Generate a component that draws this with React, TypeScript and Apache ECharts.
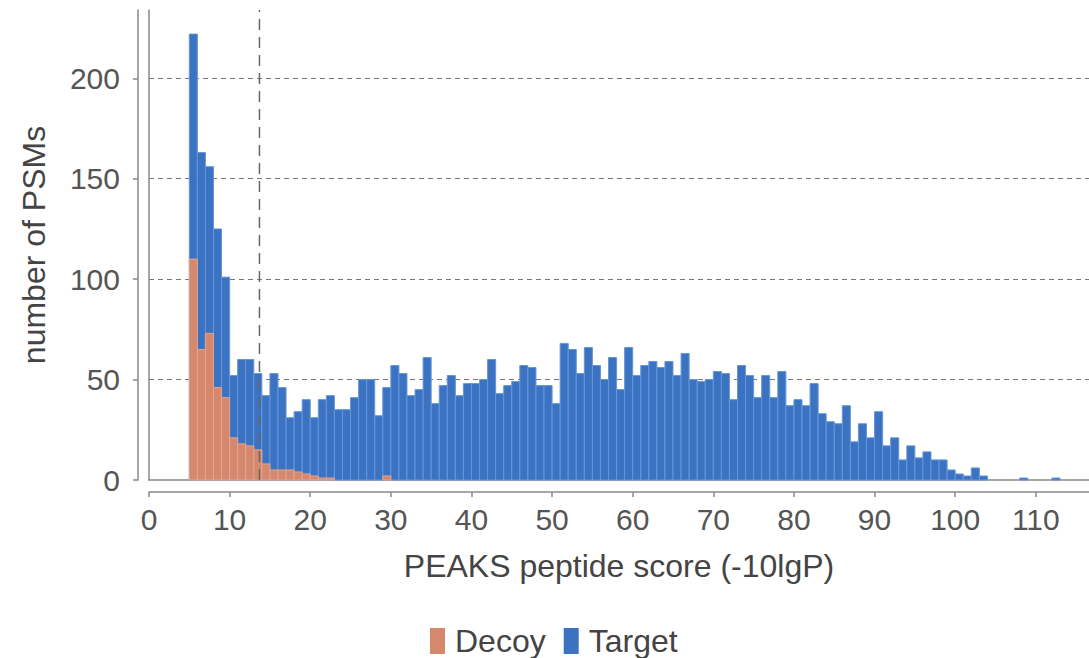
import React, { useEffect, useRef } from "react";
import * as echarts from "echarts";

// Histogram bins: each bin covers [start, start + BIN_WIDTH)
const BIN_WIDTH = 1;
const TARGET_BIN_STARTS = [
  5, 6, 7, 8, 9, 10, 11, 12, 13, 14, 15, 16, 17, 18, 19, 20, 21, 22, 23, 24,
  25, 26, 27, 28, 29, 30, 31, 32, 33, 34, 35, 36, 37, 38, 39, 40, 41, 42, 43, 44,
  45, 46, 47, 48, 49, 50, 51, 52, 53, 54, 55, 56, 57, 58, 59, 60, 61, 62, 63, 64,
  65, 66, 67, 68, 69, 70, 71, 72, 73, 74, 75, 76, 77, 78, 79, 80, 81, 82, 83, 84,
  85, 86, 87, 88, 89, 90, 91, 92, 93, 94, 95, 96, 97, 98, 99, 100, 101, 102, 103, 104,
  105, 106, 107, 108, 109, 110, 111, 112,
];
const TARGET_COUNTS = [
  222, 163, 156, 125, 101, 52, 60, 60, 53, 42, 53, 46, 31, 34, 40, 31, 40, 42, 35, 35,
  41, 50, 50, 32, 46, 57, 53, 42, 45, 61, 38, 47, 52, 42, 48, 48, 50, 60, 43, 47,
  49, 57, 56, 47, 47, 38, 68, 65, 53, 66, 57, 50, 61, 45, 66, 52, 57, 59, 56, 59,
  52, 63, 50, 49, 50, 54, 53, 40, 57, 52, 41, 52, 41, 54, 37, 40, 37, 48, 33, 29,
  28, 37, 19, 28, 21, 34, 17, 21, 10, 17, 11, 14, 10, 10, 5, 3, 2, 6, 2, 0,
  0, 0, 0, 1, 0, 0, 0, 1,
];
const DECOY_BIN_STARTS = [
  5, 6, 7, 8, 9, 10, 11, 12, 13, 14, 15, 16, 17, 18, 19, 20, 21, 22, 23, 24,
  25, 26, 27, 28, 29, 30,
];
const DECOY_COUNTS = [
  110, 65, 73, 46, 41, 21, 18, 17, 15, 8, 5, 5, 5, 4, 3, 2, 1, 1, 0, 0,
  0, 0, 0, 0, 2, 0,
];
const SCORE_THRESHOLD = 13.7;
const X_TICKS = [0, 10, 20, 30, 40, 50, 60, 70, 80, 90, 100, 110];
const Y_TICKS = [0, 50, 100, 150, 200];
const X_MAX = 116.6;
const Y_MAX = 234;

const FONT = "'Liberation Sans', Arial, sans-serif";

function makeRenderer(fill: string, edge: string) {
  return (params: any, api: any) => {
    const x = api.value(0);
    const y = api.value(1);
    if (!y) return null;
    const p0 = api.coord([x, y]);
    const p1 = api.coord([x + BIN_WIDTH, 0]);
    return {
      type: "rect",
      shape: { x: p0[0], y: p0[1], width: p1[0] - p0[0], height: p1[1] - p0[1] },
      style: { fill, stroke: edge, lineWidth: 1 },
    };
  };
}

export default function App() {
  const ref = useRef<HTMLDivElement>(null);
  useEffect(() => {
    document.body.style.margin = "0";
    if (!ref.current) return;
    const chart = echarts.init(ref.current, null, { renderer: "svg" });
    const targetData = TARGET_BIN_STARTS.map((b, i) => [b, TARGET_COUNTS[i]]);
    const decoyData = DECOY_BIN_STARTS.map((b, i) => [b, DECOY_COUNTS[i]]);
    const axisCommonX = { type: "value", min: 0, max: X_MAX };
    const axisCommonY = { type: "value", min: 0, max: Y_MAX };
    chart.setOption({
      animation: false,
      backgroundColor: "#ffffff",
      textStyle: { fontFamily: FONT },
      grid: { left: 149, top: 10, right: 0, bottom: 178, containLabel: false },
      legend: {
        left: 425,
        top: 620,
        data: ["Decoy", "Target"],
        icon: "rect",
        itemWidth: 15,
        itemHeight: 26,
        itemGap: 18,
        selectedMode: false,
        textStyle: { fontSize: 32, color: "#444", fontFamily: FONT, padding: [0, 0, 0, 5] },
      },
      xAxis: [
        {
          ...axisCommonX,
          position: "bottom",
          offset: 12,
          name: "PEAKS peptide score (-10lgP)",
          nameLocation: "middle",
          nameGap: 58,
          nameTextStyle: { fontSize: 32, color: "#444", fontFamily: FONT },
          axisLine: { show: true, onZero: false, lineStyle: { color: "#888", width: 1.5 } },
          axisTick: { show: true, length: 5, lineStyle: { color: "#888", width: 1.5 }, customValues: X_TICKS },
          axisLabel: { fontSize: 30, color: "#555", margin: 12, fontFamily: FONT, customValues: X_TICKS },
          splitLine: { show: false },
        },
        {
          ...axisCommonX,
          position: "bottom",
          offset: 0,
          axisLine: { show: true, onZero: false, lineStyle: { color: "#888", width: 1.5 } },
          axisTick: { show: false },
          axisLabel: { show: false },
          splitLine: { show: false },
        },
      ],
      yAxis: [
        {
          ...axisCommonY,
          position: "left",
          offset: 11,
          name: "number of PSMs",
          nameLocation: "middle",
          nameGap: 88,
          nameTextStyle: { fontSize: 32, color: "#444", fontFamily: FONT },
          axisLine: { show: true, onZero: false, lineStyle: { color: "#888", width: 1.5 } },
          axisTick: { show: true, length: 5, lineStyle: { color: "#888", width: 1.5 }, customValues: Y_TICKS },
          axisLabel: { fontSize: 30, color: "#555", margin: 18, fontFamily: FONT, customValues: Y_TICKS },
          splitLine: { show: false },
        },
        {
          ...axisCommonY,
          position: "left",
          offset: 0,
          interval: 50,
          axisLine: { show: true, onZero: false, lineStyle: { color: "#888", width: 1.5 } },
          axisTick: { show: false },
          axisLabel: { show: false },
          splitLine: {
            show: true,
            showMinLine: false,
            showMaxLine: false,
            lineStyle: { color: "#777", width: 1, type: [5, 4] },
          },
        },
      ],
      series: [
        {
          name: "Target",
          type: "custom",
          xAxisIndex: 0,
          yAxisIndex: 0,
          itemStyle: { color: "#3b73c2" },
          encode: { x: 0, y: 1 },
          renderItem: makeRenderer("#3b73c2", "#6496da"),
          data: targetData,
          z: 2,
        },
        {
          name: "Decoy",
          type: "custom",
          xAxisIndex: 0,
          yAxisIndex: 0,
          itemStyle: { color: "#d6886e" },
          encode: { x: 0, y: 1 },
          renderItem: makeRenderer("#d6886e", "#e4a48e"),
          data: decoyData,
          z: 3,
        },
        {
          name: "threshold",
          type: "line",
          xAxisIndex: 0,
          yAxisIndex: 0,
          symbol: "none",
          silent: true,
          lineStyle: { color: "#666", width: 1.5, type: [11, 7] },
          data: [
            [SCORE_THRESHOLD, 0],
            [SCORE_THRESHOLD, Y_MAX],
          ],
          z: 5,
        },
      ],
    });
    return () => chart.dispose();
  }, []);
  return <div ref={ref} style={{ width: 1089, height: 658 }} />;
}
